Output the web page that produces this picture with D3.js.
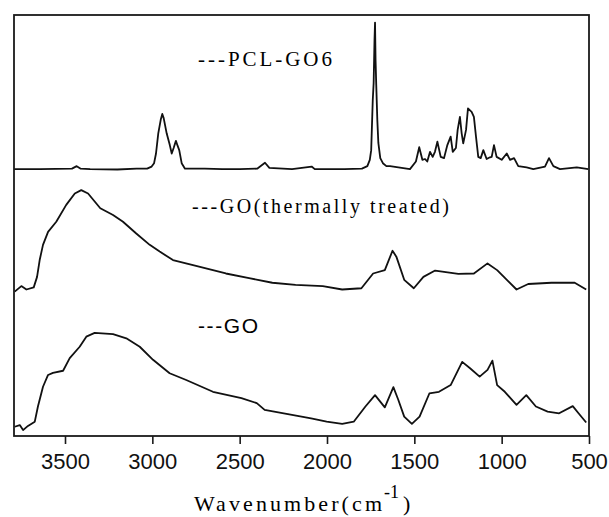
<!DOCTYPE html>
<html>
<head>
<meta charset="utf-8">
<script src="https://cdn.jsdelivr.net/npm/d3@7"></script>
<style>
  body { margin: 0; background: #fff; }
  svg { display: block; }
  .serif { font-family: "Liberation Serif", "Times New Roman", Times, serif; }
  .sans { font-family: "Liberation Sans", Arial, sans-serif; }
</style>
</head>
<body>
<div id="chart-holder"></div>
<script>
// wavenumber ticks shown on the x-axis
var xTicks = [3500, 3000, 2500, 2000, 1500, 1000, 500];

// spectra: [wavenumber (cm-1), intensity (a.u., 0-100)]
var pclGO6 = [[3792,63.4],[3700,63.4],[3644,63.4],[3460,63.5],[3433,64.1],[3410,63.5],[3356,63.4],[3200,63.3],
  [3090,63.5],[3030,63.5],[3004,64.0],[2990,64.8],[2979,67.1],[2966,71.9],[2952,75.1],[2943,76.5],[2935,75.5],
  [2918,71.9],[2900,69.1],[2889,67.1],[2878,68.4],[2865,70.1],[2855,68.9],[2846,67.9],[2832,64.8],[2813,63.5],
  [2700,63.5],[2600,63.4],[2500,63.4],[2400,63.5],[2355,64.9],[2330,63.7],[2200,63.4],[2088,64.0],[2070,63.4],
  [1900,63.4],[1800,63.5],[1769,64.1],[1755,65.6],[1747,67.9],[1738,79.8],[1733,83.8],[1728,94.1],[1725,98.2],
  [1722,89.3],[1718,83.3],[1712,75.1],[1706,69.6],[1695,66.0],[1680,64.8],[1660,64.1],[1639,64.1],[1525,63.4],
  [1491,65.2],[1472,68.6],[1454,65.6],[1439,65.8],[1426,65.2],[1410,67.5],[1395,66.3],[1382,67.5],[1368,69.9],
  [1349,66.3],[1330,66.0],[1311,69.1],[1292,71.1],[1280,67.5],[1262,68.4],[1252,72.7],[1239,75.8],[1229,71.9],
  [1220,69.5],[1204,72.7],[1193,77.8],[1172,77.0],[1159,75.8],[1147,71.1],[1134,66.3],[1120,66.0],[1105,67.9],
  [1086,65.8],[1067,66.2],[1057,66.3],[1044,69.1],[1029,66.3],[1000,65.6],[971,67.1],[952,65.6],[929,66.0],
  [905,64.1],[857,63.8],[819,63.4],[752,64.0],[729,66.0],[704,64.1],[666,63.4],[570,63.8],[504,63.4]];

var goThermal = [[3788,34.3],[3750,35.6],[3721,34.8],[3679,35.3],[3660,37.8],[3645,41.8],[3626,45.4],[3597,48.5],
  [3550,50.9],[3493,54.9],[3444,57.6],[3407,58.4],[3368,57.6],[3298,54.1],[3225,52.5],[3168,50.9],[3092,48.1],
  [3015,45.4],[2958,43.8],[2882,41.8],[2767,40.6],[2653,39.4],[2579,38.6],[2446,37.5],[2313,36.4],[2180,35.9],
  [2024,35.6],[1913,34.8],[1803,35.1],[1736,38.6],[1669,39.4],[1625,44.0],[1603,42.6],[1558,37.1],[1503,35.1],
  [1448,37.8],[1381,39.3],[1248,38.5],[1159,38.6],[1081,41.0],[1026,39.4],[915,34.8],[848,36.1],[715,36.4],
  [582,36.4],[516,34.8]];

var goRaw = [[3788,2.2],[3759,2.6],[3740,1.4],[3712,2.4],[3673,3.4],[3655,7.0],[3626,11.7],[3597,14.5],
  [3569,15.0],[3511,15.5],[3473,18.5],[3416,21.2],[3378,23.6],[3330,24.5],[3225,24.2],[3149,23.2],[3072,21.2],
  [2996,18.1],[2901,14.9],[2806,13.3],[2653,10.5],[2490,9.0],[2402,7.8],[2357,6.2],[2224,5.2],[2091,4.2],
  [2002,3.4],[1913,2.9],[1847,3.4],[1780,7.0],[1725,9.7],[1669,6.8],[1620,11.6],[1592,8.6],[1558,4.6],
  [1514,2.9],[1470,4.6],[1414,10.1],[1359,10.5],[1292,12.1],[1226,17.6],[1181,16.1],[1126,14.1],[1081,15.7],
  [1053,17.9],[1026,12.1],[982,10.5],[915,7.4],[859,9.7],[804,7.0],[737,5.8],[671,5.4],[593,7.1],[560,5.4],
  [516,3.2]];

// set dimensions of the spectrum plot
var margin = { top: 15, right: 20, bottom: 81, left: 14 },
  width = 609 - margin.left - margin.right,
  height = 517 - margin.top - margin.bottom;

var svg = d3.select("#chart-holder").append("svg")
  .attr("width", 609)
  .attr("height", 517)
  .append("g")
  .attr("transform", "translate(" + margin.left + "," + margin.top + ")");

// x runs from high to low wavenumber, as usual for IR spectra
var x = d3.scaleLinear()
  .domain([3792, 500])
  .range([0, width]);

var y = d3.scaleLinear()
  .domain([0, 100])
  .range([height, 0]);

// bottom axis with outward ticks
var xAxis = svg.append("g")
  .attr("transform", "translate(0," + height + ")")
  .call(d3.axisBottom(x).tickValues(xTicks).tickSize(8).tickSizeOuter(0).tickPadding(9)
    .tickFormat(d3.format("d")));
xAxis.select(".domain").remove();
xAxis.attr("font-family", null).attr("font-size", null);
xAxis.selectAll("line").attr("stroke", "#1a1a1a").attr("stroke-width", 1.6);
xAxis.selectAll("text")
  .attr("class", "sans")
  .style("font-size", "22px")
  .attr("fill", "#111");

// the three spectra
var line = d3.line()
  .x(function (d) { return x(d[0]); })
  .y(function (d) { return y(d[1]); });

[pclGO6, goThermal, goRaw].forEach(function (s) {
  svg.append("path")
    .datum(s)
    .attr("fill", "none")
    .attr("stroke", "#111")
    .attr("stroke-width", 1.8)
    .attr("stroke-linejoin", "round")
    .attr("d", line);
});

// frame round the plot
svg.append("rect")
  .attr("width", width)
  .attr("height", height)
  .attr("fill", "none")
  .attr("stroke", "#1a1a1a")
  .attr("stroke-width", 1.8);

// curve labels
svg.append("text")
  .attr("class", "serif")
  .attr("x", 184).attr("y", 51)
  .attr("textLength", 134).attr("lengthAdjust", "spacing")
  .style("font-size", "21px")
  .text("---PCL-GO6");

svg.append("text")
  .attr("class", "serif")
  .attr("x", 178).attr("y", 198)
  .attr("textLength", 257).attr("lengthAdjust", "spacing")
  .style("font-size", "20px")
  .text("---GO(thermally treated)");

svg.append("text")
  .attr("class", "sans")
  .attr("x", 184).attr("y", 318)
  .attr("textLength", 60).attr("lengthAdjust", "spacing")
  .style("font-size", "21px")
  .text("---GO");

// x-axis title, with the superscript set as its own text
svg.append("text")
  .attr("class", "serif")
  .attr("x", 180).attr("y", 496)
  .attr("textLength", 188).attr("lengthAdjust", "spacing")
  .style("font-size", "22px")
  .text("Wavenumber(cm");
svg.append("text")
  .attr("class", "serif")
  .attr("x", 370).attr("y", 483)
  .style("font-size", "18px")
  .text("-1");
svg.append("text")
  .attr("class", "serif")
  .attr("x", 389).attr("y", 496)
  .style("font-size", "22px")
  .text(")");
</script>
</body>
</html>
